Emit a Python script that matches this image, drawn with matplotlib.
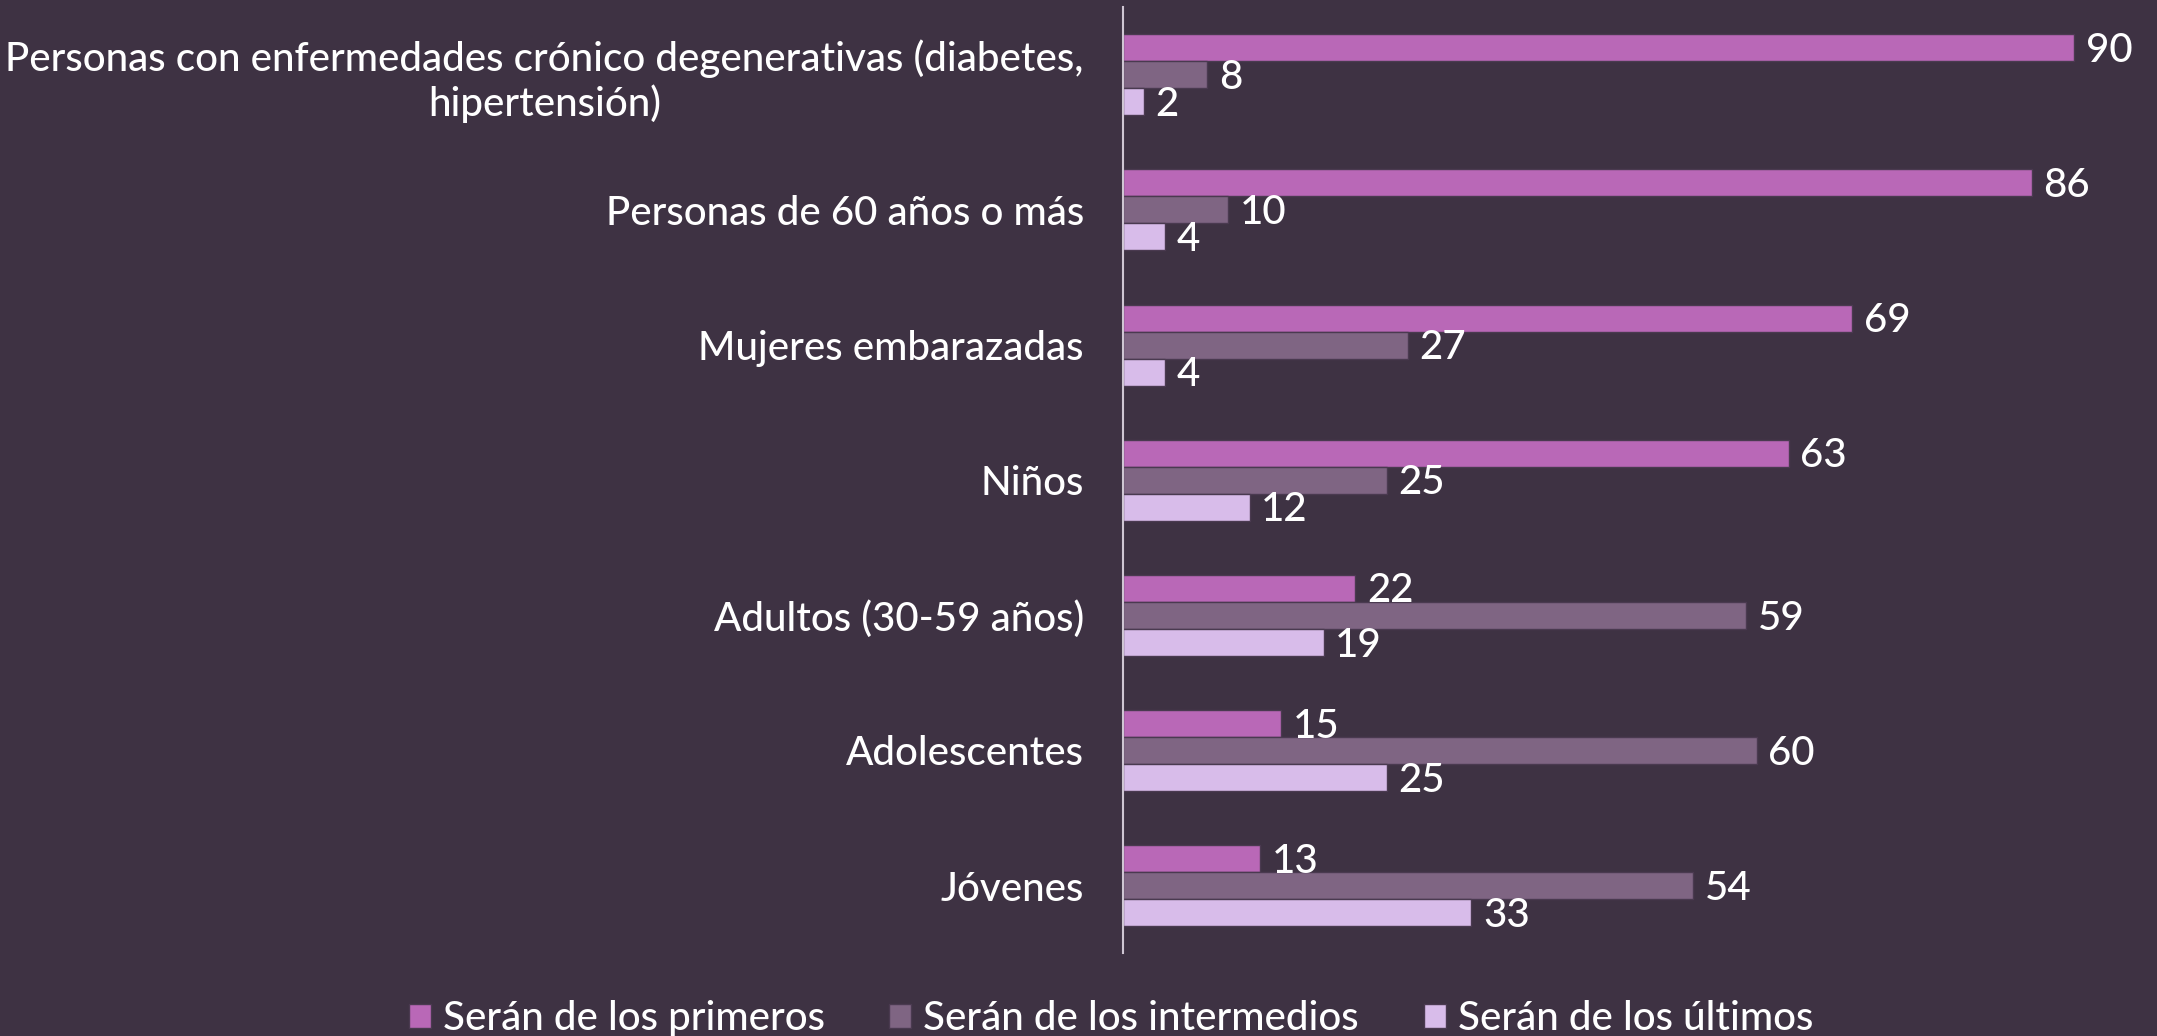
import numpy as np
from matplotlib import pyplot as plt

categories = [
    'Personas con enfermedades crónico degenerativas (diabetes,\nhipertensión)',
    'Personas de 60 años o más',
    'Mujeres embarazadas',
    'Niños',
    'Adultos (30-59 años)',
    'Adolescentes',
    'Jóvenes',
]
primeros = [90, 86, 69, 63, 22, 15, 13]
intermedios = [8, 10, 27, 25, 59, 60, 54]
ultimos = [2, 4, 4, 12, 19, 25, 33]
series_names = ['Serán de los primeros', 'Serán de los intermedios', 'Serán de los últimos']

BG = '#3e3243'
colors = ['#b968b7', '#7f6583', '#d8bcea']

plt.rcParams['font.family'] = ['Lato', 'DejaVu Sans']
plt.rcParams['font.weight'] = 'medium'

fig = plt.figure(figsize=(21.57, 10.36), dpi=100, facecolor=BG)
ax = fig.add_axes([0.5205, 0.080, 0.465, 0.913])
ax.set_facecolor(BG)

y = np.arange(len(categories))
h = 0.2
for i, (vals, col, name) in enumerate(zip([primeros, intermedios, ultimos], colors, series_names)):
    pos = y + (i - 1) * h
    bars = ax.barh(pos, vals, height=h, color=col, edgecolor='#4a3a50', linewidth=1, label=name)
    for b, v in zip(bars, vals):
        ax.text(b.get_width() + 1.1, b.get_y() + b.get_height() / 2 + 0.02, str(v),
                va='center', ha='left', color='white', fontsize=29)

ax.set_ylim(len(categories) - 0.5, -0.5)
ax.set_xlim(0, 94.9)
ax.set_yticks(y)
ax.set_yticklabels(categories, fontsize=29, color='white')
for lab in ax.get_yticklabels():
    lab.set_multialignment('center')
ax.tick_params(axis='y', length=0, pad=28)
ax.set_xticks([])
for s in ['top', 'right', 'bottom']:
    ax.spines[s].set_visible(False)
ax.spines['left'].set_color('#cfc6d3')
ax.spines['left'].set_linewidth(1.5)

fig.legend(loc='lower center', bbox_to_anchor=(0.515, -0.036), ncol=3, frameon=False,
           fontsize=29, labelcolor='white', handlelength=0.55, handleheight=0.55,
           handletextpad=0.3, columnspacing=1.6)

fig.savefig('out.png', dpi=100, facecolor=BG)
